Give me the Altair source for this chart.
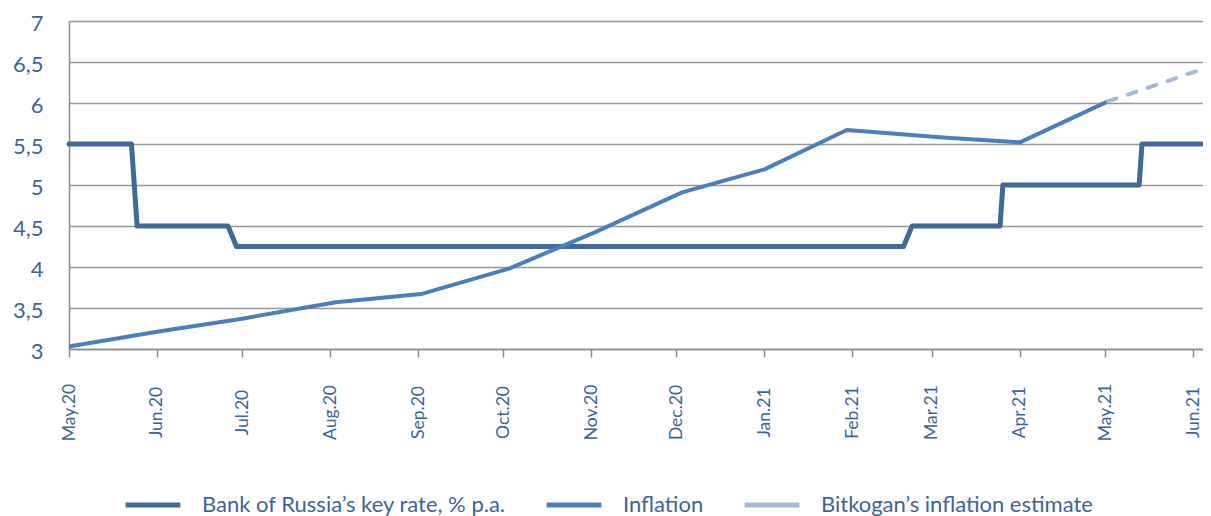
import altair as alt
import pandas as pd

# Bank of Russia key rate (% p.a.)
rate_dates = ["2020-05-01", "2020-05-23", "2020-05-25", "2020-06-26", "2020-06-29",
              "2021-02-19", "2021-02-22", "2021-03-25", "2021-03-26",
              "2021-05-13", "2021-05-14", "2021-06-04"]
rate_values = [5.5, 5.5, 4.5, 4.5, 4.25, 4.25, 4.5, 4.5, 5.0, 5.0, 5.5, 5.5]

# Inflation (% y/y)
infl_dates = ["2020-05-01", "2020-06-01", "2020-07-01", "2020-08-03", "2020-09-02",
              "2020-10-03", "2020-11-02", "2020-12-03", "2021-01-01", "2021-01-30",
              "2021-03-05", "2021-04-01", "2021-05-02"]
infl_values = [3.03, 3.21, 3.37, 3.57, 3.67, 3.98, 4.42, 4.91, 5.19, 5.67, 5.58, 5.52, 6.02]

# Bitkogan's inflation estimate
est_dates = ["2021-05-02", "2021-06-04"]
est_values = [6.02, 6.41]

series_names = ["Bank of Russia\u2019s key rate, % p.a.", "Inflation",
                "Bitkogan\u2019s inflation estimate"]
series_colors = ["#3E6A9E", "#4A7FBF", "#A6B9D9"]

TEXT = "#3C6597"
FONT = "Lato"


def frame(dates, values, name):
    return pd.DataFrame({"date": [d + "T00:00:00" for d in dates],
                         "value": values, "series": name})


df_rate = frame(rate_dates, rate_values, series_names[0])
df_infl = frame(infl_dates, infl_values, series_names[1])
df_est = frame(est_dates, est_values, series_names[2])

x = alt.X("date:T",
          scale=alt.Scale(domain=[alt.DateTime(year=2020, month=5, date=1),
                                  alt.DateTime(year=2021, month=6, date=4, hours=12)]),
          axis=alt.Axis(title=None, format="%b.%y",
                        tickCount={"interval": "month", "step": 1},
                        labelAngle=-90, labelAlign="center", labelBaseline="middle",
                        labelPadding=55, tickSize=8, tickColor="#8C8C8C", tickWidth=1.5,
                        domainColor="#8C8C8C", domainWidth=1.5, grid=False,
                        labelFont=FONT, labelFontSize=17.5, labelColor=TEXT))
y = alt.Y("value:Q",
          scale=alt.Scale(domain=[3, 7], nice=False, zero=False),
          axis=alt.Axis(title=None, values=[3, 3.5, 4, 4.5, 5, 5.5, 6, 6.5, 7],
                        labelExpr="replace(toString(datum.value), '.', ',')",
                        ticks=False, tickSize=0, labelPadding=26, labelOffset=2,
                        domainColor="#8C8C8C", domainWidth=1.5,
                        gridColor="#999999", gridWidth=1.3,
                        labelFont=FONT, labelFontSize=22, labelColor=TEXT))
color = alt.Color("series:N",
                  scale=alt.Scale(domain=series_names, range=series_colors),
                  legend=alt.Legend(title=None, orient="none", direction="horizontal",
                                    legendX=54, legendY=454,
                                    symbolType="stroke", symbolSize=3000,
                                    symbolStrokeWidth=5, symbolDash=[1, 0],
                                    labelOffset=19, columnPadding=30,
                                    labelFont=FONT, labelFontSize=22, labelColor=TEXT,
                                    labelLimit=500))

rate = alt.Chart(df_rate).mark_line(strokeWidth=5, strokeJoin="round",
                                    strokeCap="round").encode(x=x, y=y, color=color)
infl = alt.Chart(df_infl).mark_line(strokeWidth=4, strokeJoin="round").encode(
    x=x, y=y, color=color)
est = alt.Chart(df_est).mark_line(strokeWidth=4, strokeDash=[9, 12],
                                  strokeCap="round").encode(x=x, y=y, color=color)

chart = alt.layer(rate, infl, est).properties(
    width=1134, height=328,
    autosize=alt.AutoSizeParams(type="none"),
    padding={"left": 61, "top": 13, "right": 0, "bottom": 167},
).configure_view(stroke=None)

chart.save("out.html", embed_options={"renderer": "svg", "actions": False})
